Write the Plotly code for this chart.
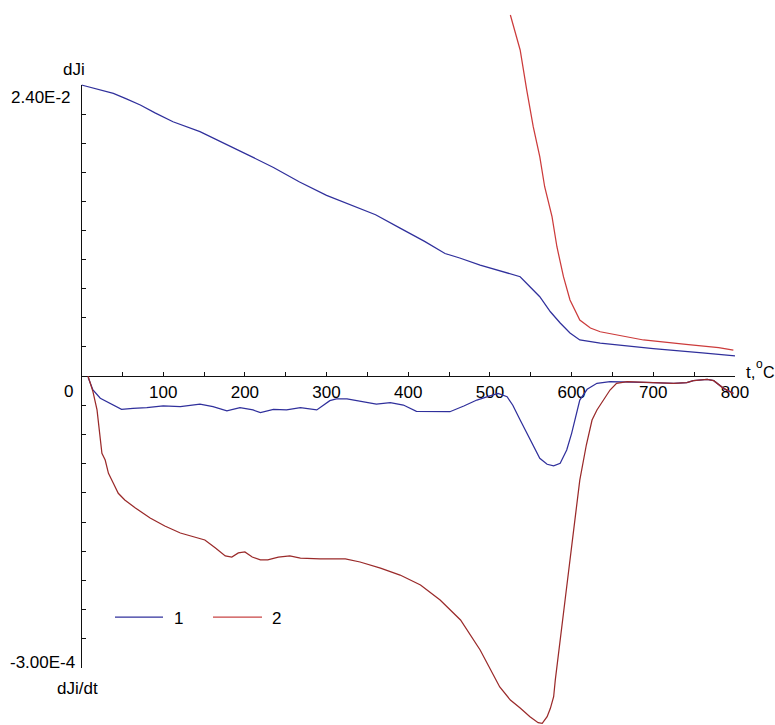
import plotly.graph_objects as go

# ---------------- data ----------------
# upper panel: dJi
t_top_1 = [0, 20, 39, 55, 72, 90, 112, 145, 175, 205, 235, 267, 300, 330, 360, 390,
           420, 445, 463, 488, 512, 537, 549, 561, 574, 586, 598, 610, 635, 700, 760, 800]
dji_1 = [2.400e-2, 2.365e-2, 2.331e-2, 2.285e-2, 2.235e-2, 2.170e-2, 2.097e-2, 2.015e-2,
         1.920e-2, 1.820e-2, 1.720e-2, 1.600e-2, 1.490e-2, 1.410e-2, 1.330e-2, 1.220e-2,
         1.110e-2, 1.010e-2, 0.973e-2, 0.915e-2, 0.868e-2, 0.819e-2, 0.736e-2, 0.654e-2,
         0.530e-2, 0.437e-2, 0.355e-2, 0.297e-2, 0.272e-2, 0.225e-2, 0.190e-2, 0.165e-2]

t_top_2 = [525, 537, 545, 553, 561, 567, 576, 582, 590, 598, 610, 623, 635, 688, 740, 780, 798]
dji_2 = [2.977e-2, 2.689e-2, 2.359e-2, 2.056e-2, 1.809e-2, 1.561e-2, 1.314e-2, 1.066e-2,
         0.819e-2, 0.627e-2, 0.462e-2, 0.396e-2, 0.365e-2, 0.297e-2, 0.260e-2, 0.235e-2, 0.214e-2]

# lower panel: dJi/dt
t_bot_1 = [8, 14, 23, 35, 49, 63, 80, 100, 121, 145, 161, 178, 194, 210, 219, 235, 251,
           268, 288, 304, 312, 325, 341, 361, 378, 394, 410, 431, 451, 468, 484, 500, 510,
           521, 528, 537, 545, 553, 561, 570, 578, 586, 594, 600, 604, 610, 619, 631, 647,
           667, 700, 725, 741, 749, 766, 774, 786, 798]
djidt_1 = [-0.013e-4, -0.144e-4, -0.229e-4, -0.280e-4, -0.342e-4, -0.332e-4, -0.326e-4,
           -0.308e-4, -0.315e-4, -0.288e-4, -0.315e-4, -0.357e-4, -0.326e-4, -0.349e-4,
           -0.377e-4, -0.342e-4, -0.349e-4, -0.326e-4, -0.349e-4, -0.253e-4, -0.236e-4,
           -0.236e-4, -0.257e-4, -0.288e-4, -0.274e-4, -0.298e-4, -0.363e-4, -0.367e-4,
           -0.367e-4, -0.308e-4, -0.247e-4, -0.205e-4, -0.178e-4, -0.213e-4, -0.300e-4,
           -0.452e-4, -0.589e-4, -0.726e-4, -0.846e-4, -0.907e-4, -0.922e-4, -0.897e-4,
           -0.760e-4, -0.589e-4, -0.452e-4, -0.247e-4, -0.137e-4, -0.075e-4, -0.058e-4,
           -0.060e-4, -0.069e-4, -0.075e-4, -0.069e-4, -0.048e-4, -0.034e-4, -0.048e-4,
           -0.127e-4, -0.178e-4]

t_bot_2 = [8, 14, 19, 21, 23, 25, 29, 33, 39, 45, 53, 66, 84, 102, 121, 139, 151, 164,
           176, 184, 192, 200, 209, 219, 228, 241, 255, 268, 292, 323, 341, 366, 390, 415,
           439, 464, 488, 512, 525, 537, 549, 559, 564, 570, 574, 578, 580, 592, 601, 610,
           618, 625, 631, 639, 647, 655, 668, 700, 725, 741, 749, 766, 774, 786, 798]
djidt_2 = [0.0, -0.161e-4, -0.349e-4, -0.521e-4, -0.691e-4, -0.794e-4, -0.863e-4, -1.000e-4,
           -1.102e-4, -1.205e-4, -1.274e-4, -1.356e-4, -1.459e-4, -1.541e-4, -1.613e-4,
           -1.654e-4, -1.685e-4, -1.767e-4, -1.849e-4, -1.860e-4, -1.818e-4, -1.808e-4,
           -1.860e-4, -1.890e-4, -1.890e-4, -1.860e-4, -1.849e-4, -1.870e-4, -1.880e-4,
           -1.880e-4, -1.911e-4, -1.973e-4, -2.045e-4, -2.147e-4, -2.301e-4, -2.507e-4,
           -2.815e-4, -3.195e-4, -3.329e-4, -3.411e-4, -3.500e-4, -3.562e-4, -3.568e-4,
           -3.500e-4, -3.414e-4, -3.295e-4, -3.123e-4, -2.301e-4, -1.685e-4, -1.069e-4,
           -0.709e-4, -0.452e-4, -0.349e-4, -0.247e-4, -0.144e-4, -0.075e-4, -0.059e-4,
           -0.069e-4, -0.075e-4, -0.069e-4, -0.048e-4, -0.034e-4, -0.048e-4, -0.127e-4,
           -0.178e-4]

x_major_ticks = [100, 200, 300, 400, 500, 600, 700, 800]
x_major_text = ["100", "200", "300", "400", "500", "600", "700", "800"]
x_minor_ticks = [50, 150, 250, 350, 450, 550, 650, 750]
top_max, top_step = 2.40e-2, 0.24e-2
bot_min, bot_step = -3.00e-4, 0.30e-4
legend_names = ["1", "2"]

# ---------------- styling / geometry ----------------
W, H = 775, 725
X0, X1 = 81.5, 735.0          # pixel of t=0 and t=800
Y_ZERO, Y_TOP, Y_BOT = 376.0, 85.0, 668.0
BLUE = "#30309c"
RED_TOP = "#cc3b3b"
RED_BOT = "#9a2a2a"
FONT = "Liberation Sans, Arial, sans-serif"
LW = 1.25

def py(p):  # pixel y -> paper fraction
    return 1 - p / H

top_range_max = top_max * Y_ZERO / (Y_ZERO - Y_TOP)
bot_range_min = bot_min * (H - Y_ZERO) / (Y_BOT - Y_ZERO)

fig = go.Figure()
fig.add_trace(go.Scatter(x=t_bot_1, y=djidt_1, xaxis="x", yaxis="y2", mode="lines",
                         line=dict(color=BLUE, width=LW), name=legend_names[0]))
fig.add_trace(go.Scatter(x=t_bot_2, y=djidt_2, xaxis="x", yaxis="y2", mode="lines",
                         line=dict(color=RED_BOT, width=LW), name=legend_names[1]))
fig.add_trace(go.Scatter(x=t_top_1, y=dji_1, xaxis="x", yaxis="y", mode="lines",
                         line=dict(color=BLUE, width=LW), name=legend_names[0]))
fig.add_trace(go.Scatter(x=t_top_2, y=dji_2, xaxis="x", yaxis="y", mode="lines",
                         line=dict(color=RED_TOP, width=LW), name=legend_names[1]))
# dummy traces so that the axis-line subplots are drawn
for ya in ("y3", "y4"):
    fig.add_trace(go.Scatter(x=[400], y=[0], xaxis="x", yaxis=ya, mode="markers",
                             marker=dict(opacity=0), hoverinfo="skip"))

n_top = int(round(top_max / top_step))
n_bot = int(round(-bot_min / bot_step))
top_ticks = [round(i * top_step, 8) for i in range(n_top + 1)]
bot_ticks = [round(-i * bot_step, 10) for i in range(n_bot + 1)]

axis_common = dict(showline=True, linecolor="#111", linewidth=1.3, ticks="inside",
                   ticklen=4, tickwidth=1.1, tickcolor="#111", showgrid=False,
                   zeroline=False)

fig.update_layout(
    width=W, height=H,
    margin=dict(l=0, r=0, t=0, b=0, pad=0),
    paper_bgcolor="white", plot_bgcolor="rgba(0,0,0,0)",
    showlegend=False,
    font=dict(family=FONT, size=17, color="black"),
    xaxis=dict(domain=[X0 / W, X1 / W], range=[0, 800], anchor="free",
               position=py(Y_ZERO), tickvals=x_major_ticks, ticktext=x_major_text,
               tickfont=dict(size=17), automargin=False,
               minor=dict(tickvals=x_minor_ticks, ticks="inside", ticklen=4,
                          tickwidth=1.1, tickcolor="#111", showgrid=False),
               **axis_common),
    yaxis=dict(domain=[py(Y_ZERO), 1], range=[0, top_range_max], anchor="x",
               visible=False),
    yaxis2=dict(domain=[0, py(Y_ZERO)], range=[bot_range_min, 0], anchor="x",
                visible=False),
    yaxis3=dict(domain=[py(Y_ZERO), py(Y_TOP)], range=[0, top_max], anchor="x",
                tickvals=top_ticks, showticklabels=False, automargin=False, **axis_common),
    yaxis4=dict(domain=[py(Y_BOT), py(Y_ZERO)], range=[bot_min, 0], anchor="x",
                tickvals=bot_ticks, showticklabels=False, automargin=False, **axis_common),
)

def ann(text, x, y, xanchor="center", size=17):
    fig.add_annotation(text=text, x=x / W, y=py(y), xref="paper", yref="paper",
                       xanchor=xanchor, yanchor="middle", showarrow=False,
                       font=dict(size=size, family=FONT, color="black"))

ann("dJi", 74, 70)
ann("2.40E-2", 73, 97, xanchor="right")
ann("0", 68, 392)
ann("-3.00E-4", 77, 662, xanchor="right")
ann("dJi/dt", 77, 688)
# axis title "t,°C" built from pieces (superscript o)
ann("t,", 744, 372, xanchor="left")
ann("o", 754, 364, xanchor="left", size=12)
ann("C", 761, 372, xanchor="left", size=16)

# manual legend
for (xa, xb, xt, col, name) in [(115, 163, 172, BLUE, legend_names[0]),
                                (213, 262, 270, "#c84444", legend_names[1])]:
    fig.add_shape(type="line", xref="paper", yref="paper", x0=xa / W, x1=xb / W,
                  y0=py(617), y1=py(617), line=dict(color=col, width=LW))
    ann(name, xt, 618, xanchor="left")

# remove the page's default body margin so the figure sits at the window's corner
fig.write_html("out.html",
               config={"displayModeBar": False},
               post_script="document.body.style.margin='0';"
                           "document.body.style.overflow='hidden';")
